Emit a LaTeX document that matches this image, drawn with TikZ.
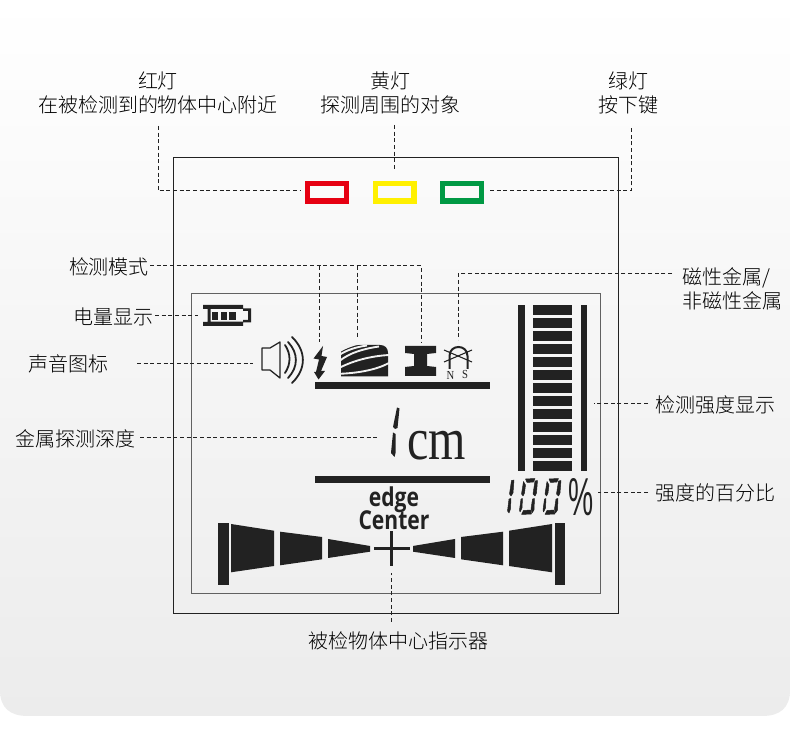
\documentclass[tikz,border=0pt]{standalone}
\usepackage{fontspec}
\setmainfont{Noto Sans CJK SC Light}
\newfontfamily\latinsans{Open Sans}
\newfontfamily\latinserif{Liberation Serif}
\newfontfamily\arialfont{Liberation Sans}
\definecolor{ink}{HTML}{222222}
\definecolor{bgb}{HTML}{ECECEC}
\definecolor{bgm}{HTML}{F5F5F5}
\definecolor{lcd}{HTML}{F2F2F2}
\definecolor{lampred}{HTML}{E60012}
\definecolor{lampyel}{HTML}{FFF000}
\definecolor{lampgrn}{HTML}{009944}
\tikzset{
  lbl/.style={font=\fontsize{15pt}{18pt}\selectfont,text=black,align=center,inner sep=0pt,outer sep=0pt},
  conn/.style={draw=ink,line width=0.75pt,dash pattern=on 3pt off 2pt},
  lamp/.style={draw=#1,line width=4.1pt,fill=none,minimum width=28.9pt,minimum height=13.1pt,inner sep=0pt,outer sep=0pt},
  wave/.style={draw=ink,line width=1.35pt,line cap=round},
  stripe/.style={draw=lcd,line width=1.4pt},
  seg/.style={fill=ink,draw=ink,line width=0.35pt,line join=round}
}
\begin{document}
\begin{tikzpicture}[x=0.75pt,y=-0.75pt]
\useasboundingbox (0,0) rectangle (790,730);
\fill[white] (0,0) rectangle (790,730);
\shade[top color=white,bottom color=bgb,middle color=bgm]
  (0,0) -- (790,0) -- (790,690) .. controls (790,708) and (780,716) .. (762,716)
  -- (28,716) .. controls (10,716) and (0,708) .. (0,690) -- cycle;

% panels
\draw[draw=ink,line width=0.65pt] (173,157) rectangle (618,613);
\draw[draw=black!62,line width=0.75pt] (191,294) rectangle (600,594);

% lamps
\node[lamp=lampred] (red) at (327,192.5) {};
\node[lamp=lampyel] (yel) at (394.5,192.5) {};
\node[lamp=lampgrn] (grn) at (462,192.5) {};

% labels
\node[lbl] (lred) at (158,93) {红灯\\[-0.5pt]在被检测到的物体中心附近};
\node[lbl] (lyel) at (390,93) {黄灯\\[-0.5pt]探测周围的对象};
\node[lbl] (lgrn) at (628.5,93) {绿灯\\[-0.5pt]按下键};
\node[lbl] (lmode) at (109,267) {检测模式};
\node[lbl] (lbat) at (113,317) {电量显示};
\node[lbl] (lsnd) at (68,364) {声音图标};
\node[lbl] (ldep) at (76,439) {金属探测深度};
\node[lbl,align=left,anchor=west] (lmag) at (682,289) {磁性金属/\\[-0.5pt]非磁性金属};
\node[lbl] (lstr) at (715,405) {检测强度显示};
\node[lbl] (lpct) at (715,493) {强度的百分比};
\node[lbl] (lctr) at (398,641) {被检物体中心指示器};

% free ends of connectors
\coordinate (a1) at (158,126);
\coordinate (a2) at (300,191);
\coordinate (b1) at (394,125);
\coordinate (b2) at (394,170);
\coordinate (c1) at (631,126);
\coordinate (c2) at (490,191);
\coordinate (m0) at (150,266);
\coordinate (m1) at (319,342);
\coordinate (m2) at (357,339);
\coordinate (m3) at (421,342);
\coordinate (g0) at (672,274);
\coordinate (g1) at (458,340);
\coordinate (bat0) at (155,316);
\coordinate (bat1) at (198,316);
\coordinate (snd0) at (137,364);
\coordinate (snd1) at (253,364);
\coordinate (dep0) at (140,438);
\coordinate (dep1) at (378,438);
\coordinate (str0) at (648,404);
\coordinate (str1) at (594,404);
\coordinate (pct0) at (648,493);
\coordinate (pct1) at (598,493);
\coordinate (ctr0) at (391,622);
\coordinate (ctr1) at (391,573);

% connectors
\draw[conn] (a1) |- (a2);
\draw[conn] (b1) -- (b2);
\draw[conn] (c2) -| (c1);
\draw[conn] (m0) -| (m3);
\draw[conn] (m1 |- m0) -- (m1);
\draw[conn] (m2 |- m0) -- (m2);
\draw[conn] (g0) -| (g1);
\draw[conn] (bat0) -- (bat1);
\draw[conn] (snd0) -- (snd1);
\draw[conn] (dep0) -- (dep1);
\draw[conn] (str0) -- (str1);
\draw[conn] (pct0) -- (pct1);
\draw[conn] (ctr0) -- (ctr1);

% battery
\fill[ink,even odd rule] (203,305) -- (243,305) -- (243,308.5) -- (251,308.5) -- (251,322.5) -- (243,322.5) -- (243,326) -- (203,326) -- (203,322) -- (207.5,322) -- (207.5,309) -- (203,309) -- cycle
  (210.5,309) -- (243,309) -- (243,311) -- (248,311) -- (248,320) -- (243,320) -- (243,321.7) -- (210.5,321.7) -- cycle;
\fill[ink] (211.8,311.7) rectangle (218,320);
\fill[ink] (220.5,311.7) rectangle (226.5,320);
\fill[ink] (229,311.7) rectangle (235.5,320);

% speaker
\draw[draw=ink,line width=0.95pt,line join=round] (262,348) -- (270,348) -- (280,342) -- (280,378) -- (270,370) -- (262,370) -- cycle;
\draw[wave] (285,345) .. controls (291,354) and (291,364) .. (285,373);
\draw[wave] (288,342) .. controls (298.5,353) and (298.5,367) .. (288,378);
\draw[wave] (292,337) .. controls (306.5,351) and (306.5,369) .. (292,383);

% lightning
\fill[ink] (323,346) -- (313.5,358.5) -- (319,359.5) -- (316,372) -- (314,372) -- (318.5,379.5) -- (325,371) -- (321,371) -- (327,357) -- (321.5,356) -- cycle;

% metal-layers icon
\fill[ink] (341,345) -- (380,345) .. controls (385,345) and (388,348) .. (388,353) -- (388,376.5) -- (341,376.5) -- cycle;
\fill[lcd] (340,344) -- (364,344) .. controls (354,345) and (347,348) .. (340,352) -- cycle;
\draw[stripe] (340,354.5) .. controls (347,350) and (356,347) .. (367,345.5);
\draw[stripe] (340,360.5) .. controls (350,353) and (362,349) .. (379,346.5);
\draw[stripe] (340,367.5) .. controls (355,360) and (372,356) .. (389,355);
\draw[stripe] (340,373.8) .. controls (358,373) and (376,370) .. (389,363);

% I-beam
\fill[ink] (405,346) -- (436,346) -- (436,353) -- (427,354) -- (427,366) -- (436,367) -- (436,376) -- (405,376) -- (405,367) -- (414,366) -- (414,354) -- (405,353) -- cycle;

% magnet icon
\draw[draw=ink,line width=1.5pt] (449.5,369) -- (449.5,356) .. controls (449.5,344) and (467.5,344) .. (467.5,356) -- (467.5,369);
\draw[draw=ink,line width=0.8pt] (444,350) -- (472,362);
\draw[draw=ink,line width=0.8pt] (444,362) -- (472,350);
\node[font=\latinserif\fontsize{8pt}{8pt}\selectfont,text=ink,inner sep=0pt,yscale=1.15] (nn) at (450.5,375) {N};
\node[font=\latinserif\fontsize{8pt}{8pt}\selectfont,text=ink,inner sep=0pt,yscale=1.15] (ss) at (465,375) {S};

% rules
\fill[ink] (315,382) rectangle (490,389);
\fill[ink] (315,476) rectangle (490,483);

% big digit 1
\fill[ink] (397,407.5) -- (399.5,408.5) -- (397.5,428) -- (395,429) -- (393,427) -- cycle;
\fill[ink] (393,432.5) -- (395.5,434) -- (395.5,453) -- (394.5,457) -- (391,453) -- cycle;
\node[font=\latinserif\fontsize{36pt}{36pt}\selectfont,text=ink,inner sep=0pt,anchor=base,yscale=1.25] (cm) at (436.5,459.5) {cm};

% edge / Center
\node[font=\latinsans\bfseries\fontsize{19.5pt}{19.5pt}\selectfont,text=ink,inner sep=0pt,xscale=0.81] (edge) at (394,500) {edge};
\node[font=\latinsans\bfseries\fontsize{19.5pt}{19.5pt}\selectfont,text=ink,inner sep=0pt,xscale=0.81] (center) at (394,520) {Center};

% strength scale
\fill[ink] (518.3,305) rectangle (524.7,471);
\fill[ink] (581,305) rectangle (587,471);
\foreach \k in {0,...,12}{
  \fill[ink] (533.3,305+13*\k) rectangle (572.3,315.3+13*\k);
}

% 100 %
\fill[seg] (511.5,480.5) -- (514,480) -- (513,493) -- (511,496) -- (509.5,494) -- cycle;
\fill[seg] (509,499) -- (511,498.5) -- (510.5,509) -- (509,513) -- (507.5,511) -- cycle;
\foreach \dx in {0,23.5}{
\begin{scope}[xshift=\dx*0.75pt]
\fill[seg] (523.5,481.5) -- (525.5,485) -- (524.5,493) -- (523,496) -- (521.5,494) -- cycle;
\fill[seg] (521,499) -- (522.5,498.5) -- (522,508) -- (520,512) -- (519.5,510) -- cycle;
\fill[seg] (535,481) -- (537.5,480.5) -- (536.5,493) -- (535,496) -- (533,494) -- cycle;
\fill[seg] (532.5,499) -- (534.5,498.5) -- (534,510) -- (532,513) -- (531,509) -- cycle;
\fill[seg] (525.5,479) -- (535,478.5) -- (533.5,482) -- (527,482.5) -- cycle;
\fill[seg] (523.5,510.5) -- (530.5,510) -- (531.5,514) -- (521.5,514.5) -- cycle;
\end{scope}}
\node[font=\arialfont\fontsize{40pt}{40pt}\selectfont,text=ink,inner sep=0pt,xscale=0.53] (pct) at (581.5,497) {\%};
% cross
\fill[ink] (374,547.3) rectangle (409.5,550.3);
\fill[ink] (389.5,531) rectangle (392.5,566);

% centre bar left
\fill[ink] (218,523.5) rectangle (228.5,585.5);
\fill[ink] (231,524) -- (274,530.7) -- (274,566) -- (231,572.3) -- cycle;
\fill[ink] (280,531.7) -- (322,537) -- (322,559.3) -- (280,565.3) -- cycle;
\fill[ink] (328,539) -- (370,546) -- (370,551.7) -- (328,558) -- cycle;
% centre bar right
\fill[ink] (565,523.5) rectangle (554.5,585.5);
\fill[ink] (552,524) -- (509,530.7) -- (509,566) -- (552,572.3) -- cycle;
\fill[ink] (503,531.7) -- (461,537) -- (461,559.3) -- (503,565.3) -- cycle;
\fill[ink] (455,539) -- (413,546) -- (413,551.7) -- (455,558) -- cycle;
\end{tikzpicture}
\end{document}
